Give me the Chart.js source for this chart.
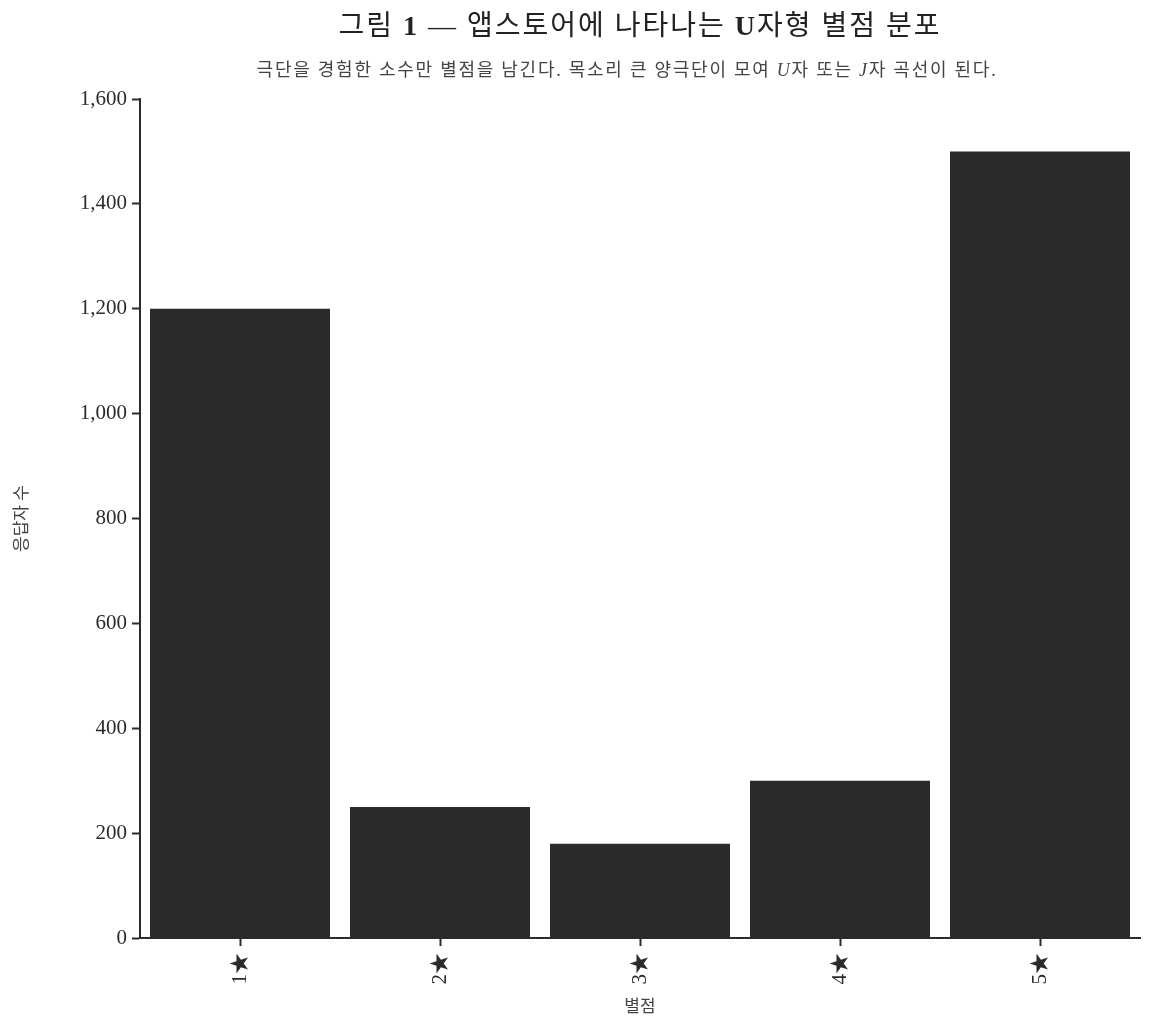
<!DOCTYPE html>
<html>
<head>
<meta charset="utf-8">
<script src="https://cdn.jsdelivr.net/npm/chart.js@4.4.1/dist/chart.umd.min.js"></script>
<style>
  html, body { margin: 0; padding: 0; background: #fff; }
  #wrap { position: relative; width: 1150px; height: 1024px; }
  #chart { position: absolute; left: 0; top: 0; }
  .title {
    position: absolute; left: 140px; width: 1000px; text-align: center;
    font-family: "Liberation Serif", "Noto Sans CJK KR", serif; color: #222;
  }
  #t1 { top: 3px; font-size: 28px; letter-spacing: 2px; }
  #t2 { top: 55px; font-size: 18px; letter-spacing: 1.75px; color: #444; left: 127px; }
</style>
</head>
<body>
<div id="wrap">
  <canvas id="chart" width="1150" height="1024"></canvas>
  <div class="title" id="t1">그림 <b>1</b> — 앱스토어에 나타나는 <b>U</b>자형 별점 분포</div>
  <div class="title" id="t2">극단을 경험한 소수만 별점을 남긴다. 목소리 큰 양극단이 모여 <i>U</i>자 또는 <i>J</i>자 곡선이 된다.</div>
</div>
<script>
// 별점 분포 데이터
const ratingLabels = ["1★", "2★", "3★", "4★", "5★"];
const responseCounts = [1200, 250, 180, 300, 1500];

const fontFamily = '"Liberation Serif", "Noto Sans CJK KR", serif';
const ink = "#2b2b2b";

const chartConfig = {
    type: "bar",
    data: {
        labels: ratingLabels,
        datasets: [
            {
                label: "응답자 수",
                data: responseCounts,
                backgroundColor: ink,
                borderWidth: 0,
                barPercentage: 0.9,
                categoryPercentage: 1.0,
            },
        ],
    },
    options: {
        responsive: false,
        animation: false,
        layout: {
            padding: { top: 99, right: 10, bottom: 6, left: 8 },
        },
        scales: {
            x: {
                grid: {
                    display: true,
                    offset: false,
                    drawOnChartArea: false,
                    drawTicks: true,
                    tickLength: 8,
                    tickColor: ink,
                    tickWidth: 2,
                },
                border: { color: ink, width: 2 },
                ticks: {
                    color: ink,
                    minRotation: 90,
                    maxRotation: 90,
                    padding: 7,
                    font: { family: fontFamily, size: 21 },
                },
                title: {
                    display: true,
                    text: "별점",
                    color: "#444",
                    padding: { top: 6, bottom: 0 },
                    font: { family: fontFamily, size: 17 },
                },
            },
            y: {
                min: 0,
                max: 1600,
                afterFit: (scale) => { scale.width = 132; },
                grid: {
                    display: true,
                    drawOnChartArea: false,
                    drawTicks: true,
                    tickLength: 8,
                    tickColor: ink,
                    tickWidth: 2,
                },
                border: { color: ink, width: 2 },
                ticks: {
                    stepSize: 200,
                    color: ink,
                    padding: 5,
                    font: { family: fontFamily, size: 21 },
                    callback: (v) => v.toLocaleString("en-US"),
                },
                title: {
                    display: true,
                    text: "응답자 수",
                    color: "#444",
                    padding: { top: 4, bottom: 0 },
                    font: { family: fontFamily, size: 17 },
                },
            },
        },
        plugins: {
            legend: { display: false },
            tooltip: { enabled: false },
        },
    },
};

new Chart(document.getElementById("chart"), chartConfig);
</script>
</body>
</html>
